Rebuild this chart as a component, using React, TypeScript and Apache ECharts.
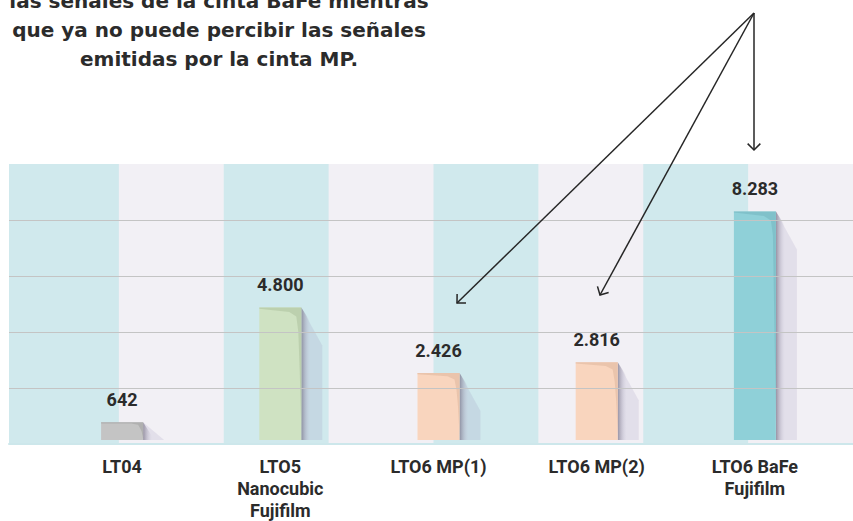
import React, { useEffect, useRef } from "react";
import * as echarts from "echarts";

// ---- data ----
const categories: string[] = [
  "LT04",
  "LTO5\nNanocubic\nFujifilm",
  "LTO6 MP(1)",
  "LTO6 MP(2)",
  "LTO6 BaFe\nFujifilm",
];
const capacities: number[] = [642, 4800, 2426, 2816, 8283];
const yMax = 10000;
const yStep = 2000;
const bandCount = 8;
const noteLines: string[] = [
  "las señales de la cinta BaFe mientras",
  "que ya no puede percibir las señales",
  "emitidas por la cinta MP.",
];

// ---- styles ----
const barPalette = [
  { main: "#c4c4c4", curl: "#a9a9a9" },
  { main: "#cfe2c2", curl: "#b6caa7" },
  { main: "#f9d5be", curl: "#e4bea5" },
  { main: "#f9d5be", curl: "#e4bea5" },
  { main: "#8fd0d8", curl: "#7bbcc6" },
];
const CYAN = "#d0e9ed";
const LAVENDER = "#f2f0f5";
const LABEL_FONT = "Roboto, 'Noto Sans', sans-serif";

function fmtEs(v: number): string {
  if (v < 1000) return String(v);
  const th = Math.floor(v / 1000);
  const rest = String(v % 1000).padStart(3, "0");
  return `${th}.${rest}`;
}

function arrowGraphics(from: number[], to: number[]) {
  const dx = to[0] - from[0];
  const dy = to[1] - from[1];
  const len = Math.sqrt(dx * dx + dy * dy);
  const ux = dx / len;
  const uy = dy / len;
  const arm = 9;
  const ang = Math.PI / 4;
  const rot = (a: number) => [
    to[0] - arm * (ux * Math.cos(a) - uy * Math.sin(a)),
    to[1] - arm * (ux * Math.sin(a) + uy * Math.cos(a)),
  ];
  const style = { stroke: "#262626", lineWidth: 1.5, fill: "none" };
  return [
    { type: "line", shape: { x1: from[0], y1: from[1], x2: to[0], y2: to[1] }, style, z: 100 },
    { type: "polyline", shape: { points: [rot(ang), to, rot(-ang)] }, style, z: 100 },
  ];
}

export default function App() {
  const ref = useRef<HTMLDivElement>(null);

  useEffect(() => {
    if (!ref.current) return;
    const chart = echarts.init(ref.current, undefined, { renderer: "svg" });

    const origin = [754, 13];
    const arrows = [
      ...arrowGraphics(origin, [457, 303]),
      ...arrowGraphics(origin, [600, 295]),
      ...arrowGraphics(origin, [754, 150]),
    ];

    const notes = noteLines.map((t, i) => ({
      type: "text",
      x: 219,
      y: 1 + i * 29,
      z: 100,
      style: {
        text: t,
        align: "center",
        verticalAlign: "middle",
        fontFamily: "'DejaVu Sans', sans-serif",
        fontWeight: "bold",
        fontSize: 20,
        fill: "#2b2b2b",
      },
    }));

    const option: any = {
      animation: false,
      backgroundColor: "#ffffff",
      grid: [
        { left: 9, right: 0, top: 164, bottom: 77, show: true, backgroundColor: CYAN, borderWidth: 0 },
        { left: 43, right: 19, top: 164, bottom: 77 },
        { left: 14, right: -8, top: 164, bottom: 77 },
      ],
      xAxis: [
        {
          gridIndex: 0,
          type: "value",
          min: 0,
          max: 1,
          axisLabel: { show: false },
          axisTick: { show: false },
          axisLine: { show: true, lineStyle: { color: "#cde7eb", width: 2 } },
          splitLine: { show: false },
          z: 10,
        },
        {
          gridIndex: 1,
          type: "category",
          data: categories,
          axisLine: { show: false },
          axisTick: { show: false },
          axisLabel: {
            interval: 0,
            fontFamily: LABEL_FONT,
            fontWeight: "bold",
            fontSize: 18,
            lineHeight: 22,
            color: "#2b2b2b",
            margin: 15,
          },
        },
        {
          gridIndex: 2,
          type: "value",
          min: 0,
          max: bandCount,
          interval: 1,
          axisLabel: { show: false },
          axisTick: { show: false },
          axisLine: { show: false },
          splitLine: { show: false },
          splitArea: { show: true, areaStyle: { color: ["rgba(0,0,0,0)", LAVENDER] } },
          z: 1,
        },
      ],
      yAxis: [
        {
          gridIndex: 0,
          type: "value",
          min: 0,
          max: yMax,
          interval: yStep,
          axisLabel: { show: false },
          axisLine: { show: false },
          axisTick: { show: false },
          splitLine: {
            show: true,
            showMinLine: false,
            showMaxLine: false,
            lineStyle: { color: "#c4c4c4", width: 1 },
          },
          z: 10,
        },
        { gridIndex: 1, type: "value", min: 0, max: yMax, show: false },
        { gridIndex: 2, type: "value", min: 0, max: 1, show: false },
      ],
      series: [
        {
          type: "custom",
          xAxisIndex: 1,
          yAxisIndex: 1,
          clip: false,
          z: 5,
          data: capacities.map((v, i) => [i, v]),
          renderItem: (params: any, api: any) => {
            const idx = params.dataIndex;
            const v = api.value(1);
            const topPt = api.coord([api.value(0), v]);
            const basePt = api.coord([api.value(0), 0]);
            const w = 42;
            const l = topPt[0] - w / 2;
            const r = topPt[0] + w / 2;
            const t = topPt[1];
            const b = basePt[1];
            const h = b - t;
            const pal = barPalette[idx];
            const k = Math.min(1, h / 100);
            const curl = [
              [l, t],
              [r, t],
              [r, t + h * 0.92],
              [r - 1.5, t + h * 0.5],
              [r - 3, t + 22 * k + 2],
              [r - 5, t + 8 * k + 1],
              [r - 12, t + 4 * k + 0.5],
              [l, t + 1.2],
            ];
            return {
              type: "group",
              children: [
                {
                  type: "polygon",
                  shape: { points: [[r, t], [r + 21, t + Math.min(38, h)], [r + 21, b], [r, b]] },
                  style: { fill: "rgba(120,110,160,0.13)" },
                },
                {
                  type: "polygon",
                  shape: { points: [[r, t], [r + 9, t + Math.min(14, h)], [r + 9, b], [r, b]] },
                  style: {
                    fill: new echarts.graphic.LinearGradient(0, 0, 1, 0, [
                      { offset: 0, color: "rgba(110,104,125,0.65)" },
                      { offset: 1, color: "rgba(200,196,215,0)" },
                    ]),
                  },
                },
                { type: "rect", shape: { x: l, y: t, width: w, height: h }, style: { fill: pal.main } },
                { type: "polygon", shape: { points: curl }, style: { fill: pal.curl, opacity: 0.75 } },
                {
                  type: "text",
                  style: {
                    text: fmtEs(v),
                    x: topPt[0],
                    y: t - 23,
                    align: "center",
                    verticalAlign: "middle",
                    fontFamily: LABEL_FONT,
                    fontWeight: "bold",
                    fontSize: 18,
                    fill: "#2b2b2b",
                  },
                },
              ],
            };
          },
        },
      ],
      graphic: [...notes, ...arrows],
    };

    chart.setOption(option);
    return () => chart.dispose();
  }, []);

  return (
    <div
      ref={ref}
      style={{ position: "fixed", left: 0, top: 0, width: 853, height: 521 }}
    />
  );
}
